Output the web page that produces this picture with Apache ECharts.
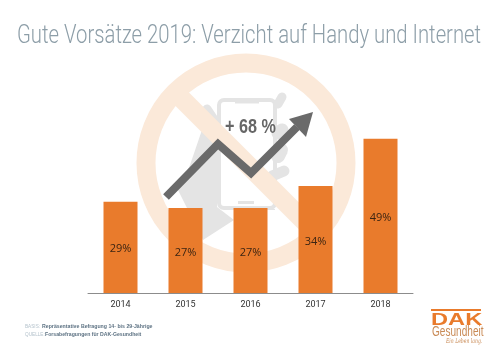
<!DOCTYPE html>
<html>
<head>
<meta charset="utf-8">
<script src="https://cdn.jsdelivr.net/npm/echarts@6/dist/echarts.min.js"></script>
<style>
  html, body { margin: 0; padding: 0; background: #fff; }
  #chart { width: 500px; height: 353px; }
</style>
</head>
<body>
<div id="chart"></div>
<script>
const years = ['2014', '2015', '2016', '2017', '2018'];
const shares = [29, 27, 27, 34, 49];

const titleText = 'Gute Vorsätze 2019: Verzicht auf Handy und Internet';
const trendText = '+ 68 %';
const ringColor = '#fbe9d9';
const phoneGrey = '#e4e4e4';
const orange = '#e97b2c';

const chart = echarts.init(document.getElementById('chart'), null, { renderer: 'canvas' });

const finger = (x1, y1, x2, y2, w) => ({
  type: 'line', z: 1,
  shape: { x1, y1, x2, y2 },
  style: { stroke: phoneGrey, lineWidth: w, lineCap: 'round' }
});

// schmale Schrift gibt es nicht, also Text horizontal stauchen
const label = (x, y, text, font, fill, scaleX) => ({
  type: 'text', z: 10, x, y, scaleX,
  style: { text, font, fill }
});

chart.setOption({
  animation: false,
  backgroundColor: '#fff',
  grid: { left: 88, right: 87, top: 60, bottom: 60 },
  xAxis: {
    type: 'category',
    data: years,
    axisLine: { lineStyle: { color: '#8c8c8c', width: 1 } },
    axisTick: { show: false },
    axisLabel: { color: '#333', fontFamily: 'Roboto', fontSize: 9, margin: 7 }
  },
  yAxis: { type: 'value', min: 0, max: 74, show: false },
  series: [{
    type: 'bar',
    data: shares,
    barWidth: 34,
    itemStyle: { color: orange },
    z: 3,
    label: {
      show: true,
      position: 'inside',
      offset: [0, 2],
      formatter: '{c}%',
      color: '#3b2412',
      fontFamily: '"Open Sans", sans-serif',
      fontSize: 11
    }
  }],
  graphic: [
    // Hand und Handy hinter dem Verbotsschild
    { type: 'polygon', z: 1, shape: { points: [[204, 124], [217, 140], [217, 207], [234, 220], [203, 240], [178, 190], [190, 165]] }, style: { fill: phoneGrey } },
    finger(207, 109, 217, 124, 9),
    { type: 'rect', z: 1, shape: { x: 219, y: 100, width: 56, height: 108, r: 5 }, style: { fill: '#fff', stroke: phoneGrey, lineWidth: 4 } },
    { type: 'rect', z: 1, shape: { x: 235, y: 102, width: 24, height: 1.5 }, style: { fill: phoneGrey } },
    { type: 'rect', z: 1, shape: { x: 238, y: 201, width: 16, height: 3 }, style: { fill: phoneGrey } },
    { type: 'rect', z: 1, shape: { x: 240, y: 209, width: 35, height: 1 }, style: { fill: phoneGrey } },
    finger(278, 104, 282, 97, 9),
    finger(278, 133, 282, 130, 13),
    finger(278, 156, 281, 150, 14),
    finger(272, 176, 284, 171, 11),
    // Verbotsschild
    { type: 'circle', z: 2, shape: { cx: 246, cy: 163, r: 100 }, style: { fill: 'none', stroke: ringColor, lineWidth: 19 } },
    { type: 'line', z: 2, shape: { x1: 176, y1: 93, x2: 322, y2: 239 }, style: { stroke: ringColor, lineWidth: 19 } },
    // Trendpfeil
    { type: 'polyline', z: 10, shape: { points: [[166, 197], [218, 144], [251, 173], [297, 127]] }, style: { fill: 'none', stroke: '#6a6a6a', lineWidth: 8, lineJoin: 'miter' } },
    { type: 'polygon', z: 10, shape: { points: [[313, 112], [306, 137], [289, 119]] }, style: { fill: '#6a6a6a' } },
    label(225, 118, trendText, 'bold 19.5px "Liberation Sans"', '#666', 0.83),
    // Titel
    label(17, 23, titleText, '300 26px Roboto', '#8d9ea8', 0.78),
    // Fußzeile
    label(25, 323, 'BASIS:', '6px "Liberation Sans"', '#b4c2cc', 0.78),
    label(42, 323, 'Repräsentative Befragung 14- bis 29-Jährige', 'bold 6px "Liberation Sans"', '#5d7283', 0.87),
    label(25, 331, 'QUELLE:', '6px "Liberation Sans"', '#b4c2cc', 0.78),
    label(45, 331, 'Forsabefragungen für DAK-Gesundheit', 'bold 6px "Liberation Sans"', '#5d7283', 0.86),
    // Logo
    { type: 'rect', z: 10, shape: { x: 431, y: 309, width: 50, height: 2 }, style: { fill: orange } },
    label(431, 312, 'DAK', 'bold 17px "Liberation Sans"', orange, 1.39),
    label(432, 325, 'Gesundheit', '14px "Liberation Sans"', '#c98a55', 0.72),
    label(446, 338, 'Ein Leben lang.', 'italic 6.5px "DejaVu Serif"', '#c98a55', 0.7)
  ]
});
</script>
</body>
</html>
